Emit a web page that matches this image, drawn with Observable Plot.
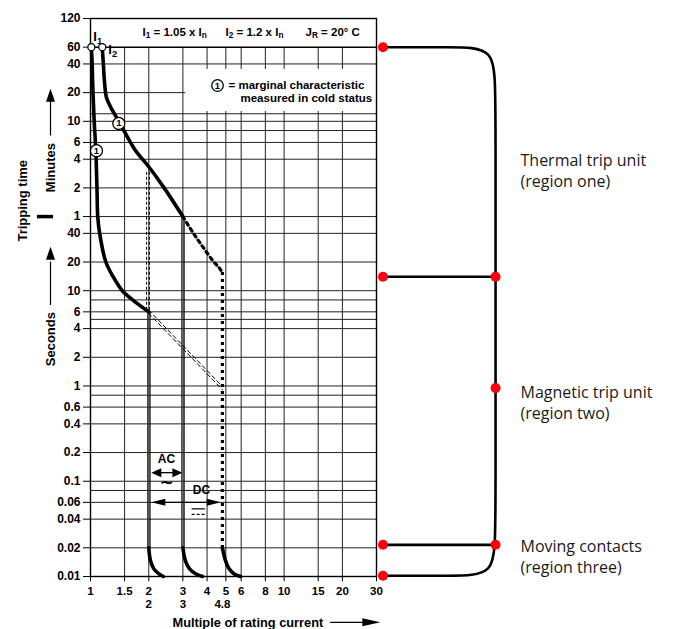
<!DOCTYPE html>
<html><head><meta charset="utf-8">
<script src="https://cdn.jsdelivr.net/npm/d3@7"></script>
<script src="https://cdn.jsdelivr.net/npm/@observablehq/plot@0.6"></script>
<style>html,body{margin:0;padding:0;background:#fff;} svg{display:block}</style>
</head><body><div id="chart"></div>
<script>
// ---------- axis values ----------
const xTicks = [1, 1.5, 2, 3, 4, 5, 6, 8, 10, 15, 20, 30];
const xTicksSecondRow = [2, 3, 4.8];
const secondTicks = [0.01, 0.02, 0.04, 0.06, 0.1, 0.2, 0.4, 0.6, 1, 2, 4, 6, 10, 20, 40];
const minuteTicks = [1, 2, 4, 6, 10, 20, 40, 60, 120];
const extraSecondGrid = [0.08, 0.8, 5, 8];
const extraMinuteGrid = [8, 12];

// ---------- characteristics (multiple of In, seconds) ----------
const i1Multiple = [1.01, 1.02, 1.03, 1.045, 1.065, 1.08, 1.09, 1.115, 1.2, 1.31, 1.46, 1.72, 2.0];
const i1Seconds  = [3600, 2400, 1200, 600, 300, 120, 60, 40, 20, 14, 10, 7.5, 6];
const i2Multiple = [1.15, 1.165, 1.18, 1.21, 1.29, 1.4, 1.7, 2.0, 2.4, 3.0];
const i2Seconds  = [3600, 2400, 1600, 1060, 800, 600, 300, 200, 120, 60];
const dottedMultiple = [3.0, 3.4, 3.83, 4.32, 4.6, 4.8];
const dottedSeconds  = [60, 40, 28.3, 20.2, 17.6, 15.5];
const dottedDropMultiple = 4.8;
const dropMultiple = [2, 3];
const dropTopSeconds = [6, 60];
const dropBottomSeconds = 0.02;
const tailSeconds = [0.02, 0.0147, 0.0121, 0.0107, 0.01];
const tailAt2  = [2, 2.04, 2.12, 2.25, 2.38];
const tailAt3  = [3, 3.09, 3.24, 3.49, 3.79];
const tailAt48 = [4.8, 4.98, 5.19, 5.50, 5.96];
const dashedVertMultiple = 2;
const dashedVertSeconds = [175, 6];
const diagMultiple = [2, 4.8];
const diagSeconds = [6, 0.95];
const marginalMultiple = [1.074, 1.40];
const marginalSeconds = [295, 570];
const acSeconds = 0.123;
const dcSeconds = 0.06;

// ---------- right-hand region bracket ----------
const regionLevels = [3600, 14, 0.0215, 0.0102];   // left dots
const bracketLevels = [14, 0.95, 0.0215];          // dots on the bracket
const dotMultiple = 32.4, bracketMultiple = 123.6;

const FONT = "'Liberation Sans', Arial, sans-serif";
const LFONT = "'Open Sans', 'Noto Sans', sans-serif";
const RED = "#ff000f";
const pts = (xs, ts) => xs.map((x, i) => ({x, t: ts[i]}));

const head = (dir, L, W) => ({
  draw(ctx) {
    if (dir === "right") { ctx.moveTo(0, 0); ctx.lineTo(-L, -W / 2); ctx.lineTo(-L, W / 2); }
    else if (dir === "left") { ctx.moveTo(0, 0); ctx.lineTo(L, -W / 2); ctx.lineTo(L, W / 2); }
    else { ctx.moveTo(0, 0); ctx.lineTo(-W / 2, L); ctx.lineTo(W / 2, L); }
    ctx.closePath();
  }
});

const gridX = xTicks.slice(1, -1);
const gridY = [...secondTicks.slice(1), ...extraSecondGrid,
  ...minuteTicks.slice(0, -2).map(m => m * 60), ...extraMinuteGrid.map(m => m * 60)];
const allYTicks = [...secondTicks, ...minuteTicks.map(m => m * 60)];

const bracketPath = [
  {x: dotMultiple, t: regionLevels[0]}, {x: 72.4, t: regionLevels[0]},
  {x: bracketMultiple, t: regionLevels[0]}, {x: bracketMultiple, t: 1228},
  {x: bracketMultiple, t: 0.0297}, {x: bracketMultiple, t: regionLevels[3]},
  {x: 72.4, t: regionLevels[3]}, {x: dotMultiple, t: regionLevels[3]}
];

const tickStyle = {fontFamily: FONT, fontSize: 12, fontWeight: "bold", fill: "black"};
const small = {fontFamily: FONT, fontSize: 11.5, fontWeight: "bold", fill: "black", lineAnchor: "middle"};
const line = (data, o) => Plot.line(data, {x: "x", y: "t", ...o});
const arrowFill = {fill: "black", stroke: "none"};

const chart = Plot.plot({
  width: 674, height: 629,
  marginLeft: 90, marginRight: 298, marginTop: 18, marginBottom: 53,
  x: {type: "log", domain: [1, 30], axis: null},
  y: {type: "log", domain: [0.01, 7200], axis: null},
  style: {fontFamily: FONT, background: "white", overflow: "visible", color: "black"},
  marks: [
    // grid
    Plot.ruleX(gridX, {y1: 0.01, y2: 3600, stroke: "#222", strokeWidth: 1}),
    Plot.ruleY(gridY, {x1: 1, x2: 30, stroke: "#222", strokeWidth: 1}),
    Plot.rect([0], {x1: 3.1, x2: 30, y1: 760, y2: 2100, fill: "white"}),
    Plot.ruleY([3600], {x1: 1, x2: 30, stroke: "black", strokeWidth: 1.4}),
    Plot.frame({stroke: "black", strokeWidth: 1.4}),
    // axis ticks and labels
    Plot.ruleY(allYTicks, {x1: 0.92, x2: 1, stroke: "black", strokeWidth: 1}),
    Plot.ruleX(xTicks, {y1: 0.0088, y2: 0.01, stroke: "black", strokeWidth: 1}),
    Plot.text(secondTicks, {y: d => d, text: d => String(d), frameAnchor: "left", dx: -10, textAnchor: "end", lineAnchor: "middle", ...tickStyle}),
    Plot.text(minuteTicks, {y: d => d * 60, text: d => String(d), frameAnchor: "left", dx: -10, textAnchor: "end", lineAnchor: "middle", ...tickStyle}),
    Plot.text(xTicks, {x: d => d, text: d => String(d), frameAnchor: "bottom", dy: 15, lineAnchor: "middle", textAnchor: "middle", ...tickStyle, fontSize: 11.5}),
    Plot.text(xTicksSecondRow, {x: d => d, text: d => String(d), frameAnchor: "bottom", dy: 28, lineAnchor: "middle", textAnchor: "middle", ...tickStyle, fontSize: 11.5}),
    // axis titles
    Plot.text(["Multiple of rating current"], {frameAnchor: "bottom-left", dx: 82, dy: 46, textAnchor: "start", lineAnchor: "middle", ...tickStyle, fontSize: 12.8}),
    Plot.ruleY([0.0033], {x1: 17.4, x2: 26, stroke: "black", strokeWidth: 1.2}),
    Plot.dot([0.0033], {x: 31.4, y: d => d, symbol: head("right", 18, 8), ...arrowFill}),
    Plot.text(["Tripping time"], {frameAnchor: "left", y: 88, dx: -68, rotate: -90, textAnchor: "middle", lineAnchor: "middle", ...tickStyle, fontSize: 13}),
    Plot.ruleY([60], {x1: 0.532, x2: 0.644, stroke: "black", strokeWidth: 3.5}),
    Plot.text(["Minutes"], {frameAnchor: "left", y: 196, dx: -40, rotate: -90, textAnchor: "middle", lineAnchor: "middle", ...tickStyle, fontSize: 13}),
    Plot.ruleX([1], {y1: 420, y2: 1000, dx: -40, stroke: "black", strokeWidth: 1.2}),
    Plot.dot([1320], {x: 1, y: d => d, dx: -40, symbol: head("up", 13, 9), ...arrowFill}),
    Plot.text(["Seconds"], {frameAnchor: "left", y: 3.1, dx: -40, rotate: -90, textAnchor: "middle", lineAnchor: "middle", ...tickStyle, fontSize: 13}),
    Plot.ruleX([1], {y1: 7, y2: 20, dx: -40, stroke: "black", strokeWidth: 1.2}),
    Plot.dot([29], {x: 1, y: d => d, dx: -40, symbol: head("up", 13, 9), ...arrowFill}),
    // header band texts
    Plot.text(["I_{1} = 1.05 x I_{n}"], {frameAnchor: "top-left", dx: 52, dy: 14, textAnchor: "start", ...small}),
    Plot.text(["I_{2} = 1.2 x I_{n}"], {frameAnchor: "top-left", dx: 135, dy: 14, textAnchor: "start", ...small}),
    Plot.text(["J_{R} = 20° C"], {frameAnchor: "top-left", dx: 215, dy: 14, textAnchor: "start", ...small}),
    // legend
    Plot.dot([0], {frameAnchor: "top-left", dx: 127, dy: 67, r: 5.8, fill: "white", stroke: "black", strokeWidth: 1.3}),
    Plot.text(["1"], {frameAnchor: "top-left", dx: 127, dy: 67, textAnchor: "middle", ...small, fontSize: 9.5}),
    Plot.text(["= marginal characteristic"], {frameAnchor: "top-left", dx: 138, dy: 67, textAnchor: "start", ...small}),
    Plot.text(["measured in cold status"], {frameAnchor: "top-left", dx: 150, dy: 80, textAnchor: "start", ...small}),
    // drops (double lines)
    Plot.ruleX(dropMultiple.map((x, i) => ({x, top: dropTopSeconds[i]})), {x: "x", y1: "top", y2: dropBottomSeconds, dx: -1.2, stroke: "#333", strokeWidth: 1}),
    Plot.ruleX(dropMultiple.map((x, i) => ({x, top: dropTopSeconds[i]})), {x: "x", y1: "top", y2: dropBottomSeconds, dx: 1.2, stroke: "black", strokeWidth: 1.2}),
    Plot.ruleX([dashedVertMultiple], {y1: dashedVertSeconds[0], y2: dashedVertSeconds[1], dx: -2.2, stroke: "black", strokeWidth: 1, strokeDasharray: "3,2"}),
    Plot.ruleX([dashedVertMultiple], {y1: dashedVertSeconds[0], y2: dashedVertSeconds[1], dx: 0.6, stroke: "black", strokeWidth: 1, strokeDasharray: "3,2"}),
    line(pts(diagMultiple, diagSeconds), {dy: -1.6, stroke: "black", strokeWidth: 1, strokeDasharray: "4,3"}),
    line(pts(diagMultiple, diagSeconds), {dy: 1.6, stroke: "black", strokeWidth: 1, strokeDasharray: "4,3"}),
    // AC / DC
    Plot.ruleY([acSeconds], {x1: 2, x2: 3, insetLeft: 6, insetRight: 6, stroke: "black", strokeWidth: 1.3}),
    Plot.dot([acSeconds], {x: 2, y: d => d, dx: 2.5, symbol: head("left", 10, 9), ...arrowFill}),
    Plot.dot([acSeconds], {x: 3, y: d => d, dx: -0.5, symbol: head("right", 10, 9), ...arrowFill}),
    Plot.text(["AC"], {x: 2.47, y: 0.17, ...small, fontSize: 12}),
    Plot.text(["∼"], {x: 2.47, y: 0.098, ...small, fontFamily: "'DejaVu Sans', sans-serif", fontSize: 17, fontWeight: "bold"}),
    Plot.ruleY([dcSeconds], {x1: 2, x2: 4.8, insetLeft: 8, insetRight: 8, stroke: "black", strokeWidth: 1.3}),
    Plot.dot([dcSeconds], {x: 2, y: d => d, dx: 2.5, symbol: head("left", 14, 7), ...arrowFill}),
    Plot.dot([dcSeconds], {x: 4.8, y: d => d, dx: -1.5, symbol: head("right", 14, 7), ...arrowFill}),
    Plot.text(["DC"], {x: 3.74, y: 0.08, ...small, fontSize: 12}),
    Plot.ruleY([0.0513], {x1: 3.35, x2: 3.92, stroke: "black", strokeWidth: 1.2}),
    Plot.ruleY([0.0448], {x1: 3.35, x2: 3.92, stroke: "black", strokeWidth: 1.2, strokeDasharray: "3,2"}),
    // main characteristics
    line(pts(i1Multiple, i1Seconds), {curve: "catmull-rom", stroke: "black", strokeWidth: 3.6}),
    line(pts(i2Multiple, i2Seconds), {curve: "catmull-rom", stroke: "black", strokeWidth: 3.6}),
    line(pts(dottedMultiple, dottedSeconds), {curve: "catmull-rom", stroke: "black", strokeWidth: 3.2, strokeDasharray: "3,4"}),
    Plot.ruleX([dottedDropMultiple], {y1: dottedSeconds[dottedSeconds.length - 1], y2: dropBottomSeconds, stroke: "black", strokeWidth: 3.2, strokeDasharray: "3,4"}),
    line(pts(tailAt2, tailSeconds), {curve: "catmull-rom", stroke: "black", strokeWidth: 3.6}),
    line(pts(tailAt3, tailSeconds), {curve: "catmull-rom", stroke: "black", strokeWidth: 3.6}),
    line(pts(tailAt48, tailSeconds), {curve: "catmull-rom", stroke: "black", strokeWidth: 3.6}),
    // start markers and labels
    Plot.dot([{x: i1Multiple[0], t: i1Seconds[0]}, {x: i2Multiple[0], t: i2Seconds[0]}], {x: "x", y: "t", r: 3.5, fill: "white", stroke: "black", strokeWidth: 1.3}),
    Plot.text(["I_{1}"], {x: i1Multiple[0], y: i1Seconds[0], dx: 2, dy: -10, textAnchor: "start", ...small, fontSize: 13}),
    Plot.text(["I_{2}"], {x: i2Multiple[0], y: i2Seconds[0], dx: 6, dy: 3, textAnchor: "start", ...small, fontSize: 13}),
    Plot.dot(pts(marginalMultiple, marginalSeconds), {x: "x", y: "t", r: 6, fill: "white", stroke: "black", strokeWidth: 1.3}),
    Plot.text(pts(marginalMultiple, marginalSeconds), {x: "x", y: "t", text: () => "1", ...small, fontSize: 9.5}),
    // right-hand bracket
    line(bracketPath, {curve: "basis", stroke: "black", strokeWidth: 2.6}),
    Plot.ruleY([regionLevels[1], regionLevels[2]], {x1: dotMultiple, x2: bracketMultiple, stroke: "black", strokeWidth: 2.6}),
    Plot.dot(regionLevels, {x: dotMultiple, y: d => d, r: 5, fill: RED, stroke: "none"}),
    Plot.dot(bracketLevels, {x: bracketMultiple, y: d => d, r: 5, fill: RED, stroke: "none"}),
    Plot.text(["Thermal trip unit\n(region one)"], {frameAnchor: "top-right", dx: 144, dy: 132.6, lineAnchor: "top", textAnchor: "start", lineHeight: 1.32, fontFamily: LFONT, fontSize: 16, fill: "#1a1a1a"}),
    Plot.text(["Magnetic trip unit\n(region two)"], {frameAnchor: "top-right", dx: 144, dy: 364.6, lineAnchor: "top", textAnchor: "start", lineHeight: 1.32, fontFamily: LFONT, fontSize: 16, fill: "#1a1a1a"}),
    Plot.text(["Moving contacts\n(region three)"], {frameAnchor: "top-right", dx: 144, dy: 518.6, lineAnchor: "top", textAnchor: "start", lineHeight: 1.32, fontFamily: LFONT, fontSize: 16, fill: "#1a1a1a"})
  ]
});

// subscripts: turn "_{..}" into real subscript tspans
const NS = "http://www.w3.org/2000/svg";
chart.querySelectorAll("text").forEach(t => {
  if (t.querySelector("tspan")) return;
  const s = t.textContent;
  if (!s.includes("_{")) return;
  t.textContent = "";
  const re = /_\{([^}]*)\}/g; let last = 0, m;
  const add = (txt, sub) => {
    const sp = document.createElementNS(NS, "tspan");
    sp.textContent = txt;
    if (sub) { sp.setAttribute("font-size", "0.72em"); sp.setAttribute("baseline-shift", "-28%"); }
    t.appendChild(sp);
  };
  while ((m = re.exec(s))) {
    if (m.index > last) add(s.slice(last, m.index), false);
    add(m[1], true);
    last = re.lastIndex;
  }
  if (last < s.length) add(s.slice(last), false);
});
document.getElementById("chart").appendChild(chart);
</script>
</body></html>
